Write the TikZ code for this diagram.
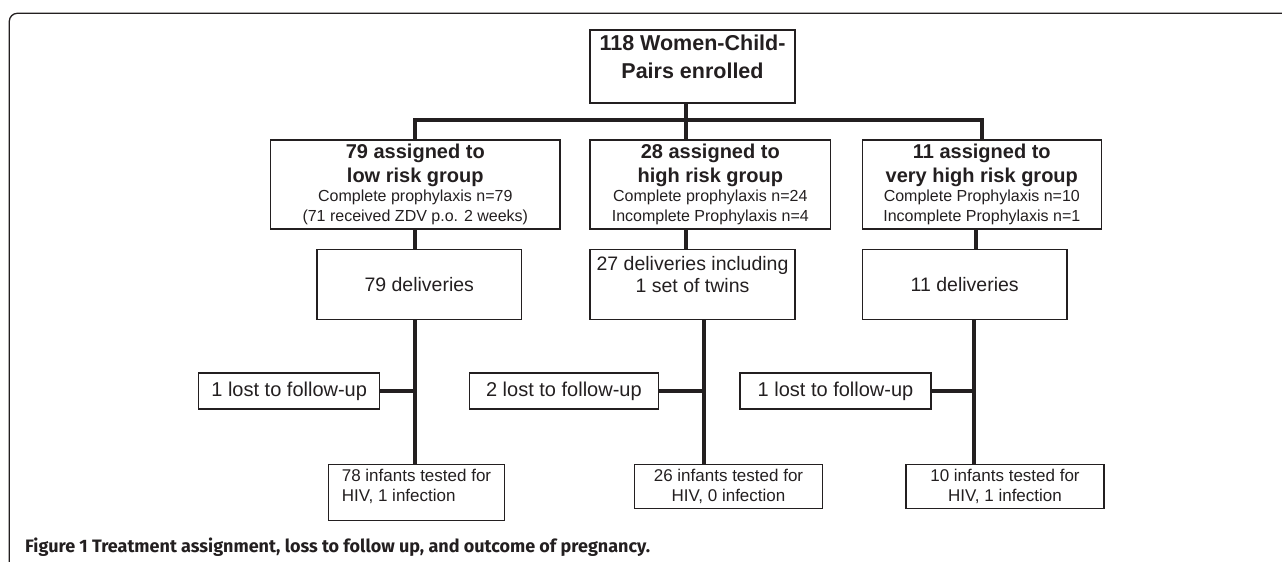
\documentclass[tikz,border=0pt]{standalone}
\usepackage{fontspec}
\setmainfont{Liberation Sans}
\newfontfamily\capfont{Fira Sans}
\definecolor{ink}{HTML}{231F20}
\newcommand{\hd}[1]{{\bfseries\fontsize{20}{24}\selectfont #1}}

\begin{document}
\begin{tikzpicture}[x=1pt, y=-1pt,
    box/.style={draw=ink, line width=1.1pt, inner sep=2pt, align=center, text=ink},
    link/.style={draw=ink, line width=4pt},
    big/.style={font=\fontsize{19.5}{22}\selectfont},
    small/.style={font=\fontsize{16}{19.5}\selectfont},
    tiny/.style={font=\fontsize{17}{20}\selectfont}]
    \useasboundingbox (0,0) rectangle (1282,562);
    % frame
    \draw[ink, line width=1.3pt, rounded corners=8pt] (9.3,562) -- (9.3,13.3) -- (1282,13.3);
    % enrolled pairs
    \node[box, minimum width=205pt, minimum height=73pt, text depth=19pt,
        font=\bfseries\fontsize{21.5}{28}\selectfont] (enrol) at (692.5,66.5) {118 Women-Child-\\Pairs enrolled};
    % risk groups
    \node[box, small, minimum width=289.4pt, minimum height=89pt] (low) at (415.3,184.5)
        {\hd{79 assigned to}\\[4pt]\hd{low risk group}\\Complete prophylaxis n=79\\(71 received ZDV p.o. 2 weeks)};
    \node[box, small, minimum width=240.6pt, minimum height=89pt] (high) at (710.3,184.5)
        {\hd{28 assigned to}\\[4pt]\hd{high risk group}\\Complete prophylaxis n=24\\Incomplete Prophylaxis n=4};
    \node[box, small, minimum width=238.8pt, minimum height=89pt] (vhigh) at (981.8,184.5)
        {\hd{11 assigned to}\\[4pt]\hd{very high risk group}\\Complete Prophylaxis n=10\\Incomplete Prophylaxis n=1};
    % deliveries
    \node[box, big, minimum width=204.6pt, minimum height=70pt] (low-del) at (419.3,284.3) {79 deliveries};
    \node[box, big, minimum width=205pt, minimum height=70pt, text depth=20pt] (high-del) at (692.5,284.3)
        {27 deliveries including\\1 set of twins};
    \node[box, big, minimum width=204.6pt, minimum height=70pt] (vhigh-del) at (964.7,284.3) {11 deliveries};
    % lost to follow-up
    \node[box, font=\fontsize{20}{24}\selectfont, minimum width=180.8pt, minimum height=36pt] (low-lost) at (289.2,391) {1 lost to follow-up};
    \node[box, font=\fontsize{20}{24}\selectfont, minimum width=189pt, minimum height=36pt] (high-lost) at (563.9,391) {2 lost to follow-up};
    \node[box, font=\fontsize{20}{24}\selectfont, minimum width=191pt, minimum height=36pt] (vhigh-lost) at (835.5,391) {1 lost to follow-up};
    % infants tested
    \node[box, tiny, align=left, minimum width=176pt, minimum height=55.7pt, text depth=13pt] (low-inf) at (416.5,492.2)
        {78 infants tested for\\HIV, 1 infection};
    \node[box, tiny, minimum width=187.7pt, minimum height=44pt] (high-inf) at (728.5,486.3)
        {26 infants tested for\\HIV, 0 infection};
    \node[box, tiny, minimum width=198pt, minimum height=44pt] (vhigh-inf) at (1005,486.3)
        {10 infants tested for\\HIV, 1 infection};
    % tree to the groups
    \coordinate (bus) at (686,120);
    \draw[link] (bus |- enrol.south) -- (bus |- high.north);
    \draw[link] (low.north) |- (bus) -| (vhigh.north);
    % groups to deliveries
    \coordinate (vstem) at (975.5,0);
    \draw[link] (low.south) -- (low.south |- low-del.north);
    \draw[link] (bus |- high.south) -- (bus |- high-del.north);
    \draw[link] (vstem |- vhigh.south) -- (vstem |- vhigh-del.north);
    % deliveries to infants, with the losses
    \foreach \g/\x in {low/415, high/703.5, vhigh/974}{
        \coordinate (\g-j) at (\x,391);
        \draw[link] (\g-j |- \g-del.south) -- (\g-j |- \g-inf.north);
        \draw[link] (\g-lost.east) -- (\g-j);
    }
    % caption
    \node[anchor=west, inner sep=0pt, text=ink, font=\capfont\bfseries\fontsize{18}{22}\selectfont] (caption) at (25,547)
        {Figure 1 Treatment assignment, loss to follow up, and outcome of pregnancy.};
\end{tikzpicture}
\end{document}
